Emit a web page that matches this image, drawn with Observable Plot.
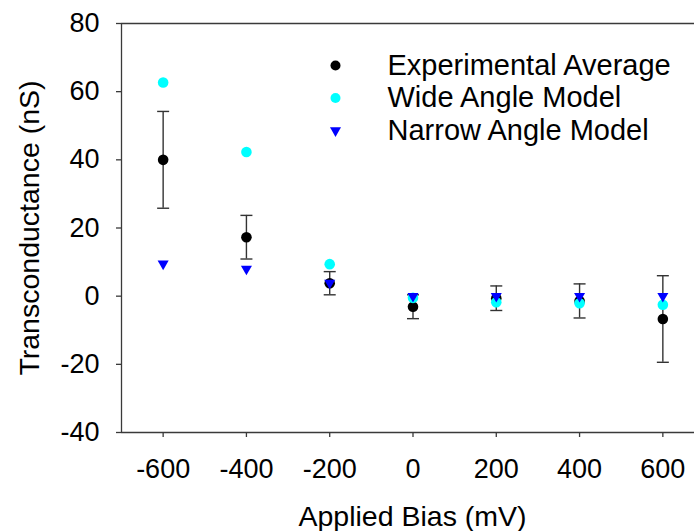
<!DOCTYPE html>
<html><head><meta charset="utf-8">
<script src="https://cdn.jsdelivr.net/npm/d3@7"></script>
<script src="https://cdn.jsdelivr.net/npm/@observablehq/plot@0.6"></script>
<style>body{margin:0;background:#fff}</style>
</head><body><div id="chart"></div>
<script>
// ---- data ----
const biasValues = [-600, -400, -200, 0, 200, 400, 600];
const expAverage = [40.0, 17.3, 3.8, -3.1, -0.6, -1.4, -6.7];
const expError   = [14.2, 6.4, 3.4, 3.5, 3.6, 5.0, 12.7];
const wideAngle  = [62.7, 42.3, 9.4, -0.5, -1.8, -2.1, -2.5];
const narrowAngle= [9.5, 8.0, 3.9, 0.0, 0.0, 0.0, 0.0];
const xTicks = [-600, -400, -200, 0, 200, 400, 600];
const yTicks = [-40, -20, 0, 20, 40, 60, 80];
const xDomain = [-700, 676];
const yDomain = [-40, 80];
const legendLabels = ["Experimental Average", "Wide Angle Model", "Narrow Angle Model"];
const xLabel = "Applied Bias (mV)";
const yLabel = "Transconductance (nS)";

const rows = biasValues.map((x, i) => ({
  x, mean: expAverage[i], lo: expAverage[i] - expError[i], hi: expAverage[i] + expError[i],
  wide: wideAngle[i], narrow: narrowAngle[i]
}));

const axisColor = "#3a3a3a";
const errColor = "#333";
const colors = ["#000000", "#00ffff", "#0000ff"];
const font = "'Liberation Sans', Arial, Helvetica, sans-serif";

const capSymbol = {draw(ctx) { ctx.moveTo(-6, 0); ctx.lineTo(6, 0); }};

const legendMarks = legendLabels.flatMap((label, i) => [
  Plot.dot([label], {frameAnchor: "top-left", dx: 214, dy: 42 + i * 32.5,
    r: i === 2 ? 4.1 : 5, fill: colors[i], symbol: i === 2 ? "triangle" : "circle", rotate: i === 2 ? 180 : 0}),
  Plot.text([label], {frameAnchor: "top-left", dx: 266, dy: 42 + i * 32.5, text: d => d,
    textAnchor: "start", lineAnchor: "middle", fontSize: 29, fill: "#000"})
]);

const chart = Plot.plot({
  width: 694, height: 531,
  marginLeft: 121, marginRight: 0, marginTop: 23, marginBottom: 99,
  style: {fontFamily: font, background: "#fff", color: "#000"},
  x: {domain: xDomain},
  y: {domain: yDomain},
  marks: [
    Plot.ruleX([xDomain[0]], {stroke: axisColor, strokeWidth: 1.3}),
    Plot.ruleY([yDomain[0]], {stroke: axisColor, strokeWidth: 1.3}),
    Plot.ruleY([yDomain[1]], {stroke: axisColor, strokeWidth: 1.3}),
    Plot.axisY(yTicks, {tickSize: 5, tickPadding: 17, fontSize: 27, stroke: axisColor, strokeWidth: 1.3,
      tickFormat: d => String(d), label: null, fill: "#000"}),
    Plot.axisX(xTicks, {tickSize: 5, tickPadding: 21, fontSize: 27, stroke: axisColor, strokeWidth: 1.3,
      tickFormat: d => String(d), label: null, fill: "#000"}),
    Plot.text([xLabel], {frameAnchor: "bottom", dx: 4.5, dy: 93, text: d => d, lineAnchor: "bottom", fontSize: 28.5, fill: "#000"}),
    Plot.text([yLabel], {frameAnchor: "left", dx: -83, text: d => d, rotate: -90, textAnchor: "middle", lineAnchor: "bottom", fontSize: 28.5, fill: "#000"}),
    Plot.ruleX(rows, {x: "x", y1: "lo", y2: "hi", stroke: errColor, strokeWidth: 1.4}),
    Plot.dot(rows, {x: "x", y: "hi", symbol: capSymbol, r: 6, fill: "none", stroke: errColor, strokeWidth: 1.4}),
    Plot.dot(rows, {x: "x", y: "lo", symbol: capSymbol, r: 6, fill: "none", stroke: errColor, strokeWidth: 1.4}),
    Plot.dot(rows, {x: "x", y: "mean", r: 5.3, fill: colors[0]}),
    Plot.dot(rows, {x: "x", y: "wide", r: 5.3, fill: colors[1]}),
    Plot.dot(rows, {x: "x", y: "narrow", r: 4.1, symbol: "triangle", rotate: 180, fill: colors[2]}),
    ...legendMarks
  ]
});
document.getElementById("chart").appendChild(chart);
</script>
</body></html>
